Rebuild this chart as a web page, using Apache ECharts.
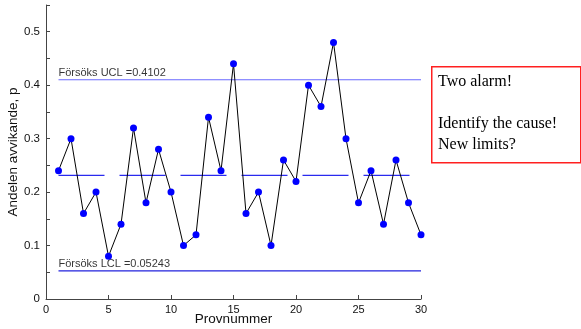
<!DOCTYPE html>
<html><head><meta charset="utf-8">
<script src="https://cdn.jsdelivr.net/npm/echarts@6/dist/echarts.min.js"></script>
<style>html,body{margin:0;padding:0;background:#fff}#c{width:581px;height:329px}</style>
</head><body><div id="c"></div>
<script>
const samples = [1,2,3,4,5,6,7,8,9,10,11,12,13,14,15,16,17,18,19,20,21,22,23,24,25,26,27,28,29,30];
const pValues = [0.24,0.30,0.16,0.20,0.08,0.14,0.32,0.18,0.28,0.20,0.10,0.12,0.34,0.24,0.44,0.16,0.20,0.10,0.26,0.22,0.40,0.36,0.48,0.30,0.18,0.24,0.14,0.26,0.18,0.12];
const UCL = 0.4102;
const LCL = 0.05243;
const CL = 0.2313;
const xTicks = [0,5,10,15,20,25,30];
const yTicks = [0,0.1,0.2,0.3,0.4,0.5];
const ucLabel = 'Försöks UCL =0.4102';
const lcLabel = 'Försöks LCL =0.05243';
const noteLines = ['Two alarm!', '', 'Identify the cause!', 'New limits?'];

const font = 'Liberation Sans, Arial, sans-serif';
const chart = echarts.init(document.getElementById('c'));
const first = samples[0], last = samples[samples.length-1];
function hline(v, color){
  return {
    type:'line', symbol:'none', silent:true, animation:false,
    lineStyle:{color:color, width:1.2},
    data:[[first,v],[last,v]],
    z:1
  };
}
chart.setOption({
  animation:false,
  grid:{left:46, right:160, top:5, bottom:30, outerBoundsMode:'none', containLabel:false},
  xAxis:{type:'value', min:0, max:30, interval:5,
    name:'Provnummer', nameLocation:'middle', nameGap:13, nameMoveOverlap:false,
    nameTextStyle:{fontSize:13.5, fontFamily:font, color:'#111'},
    axisLine:{lineStyle:{color:'#444', width:1}},
    axisTick:{inside:true, length:4, lineStyle:{color:'#444'}},
    axisLabel:{fontSize:11, fontFamily:font, color:'#111', margin:5, formatter:v=>xTicks.includes(v)?String(v):''},
    splitLine:{show:false}},
  yAxis:{type:'value', min:0, max:0.55, interval:0.05,
    name:'Andelen avvikande, p', nameLocation:'middle', nameGap:26, nameRotate:90, nameMoveOverlap:false,
    nameTextStyle:{fontSize:13.5, fontFamily:font, color:'#111'},
    axisLine:{show:true, lineStyle:{color:'#444', width:1}},
    axisTick:{inside:true, length:4, lineStyle:{color:'#444'}},
    axisLabel:{fontSize:11.5, fontFamily:font, color:'#111', margin:6,
      formatter:v=>{const r=Math.round(v*100)/100; return yTicks.some(t=>Math.abs(t-r)<1e-9)? (r===0?'0':String(r)) : '';}},
    splitLine:{show:false}},
  series:[
    hline(UCL,'#6a6aff'),
    hline(LCL,'#2222dd'),
    {type:'line', symbol:'none', silent:true, lineStyle:{color:'#2a2aee', width:1.2, type:[46,15]},
      data:[[first,CL],[last,CL]], z:1},
    {type:'scatter', silent:true, symbolSize:1, itemStyle:{color:'rgba(0,0,0,0)'},
      label:{show:true, position:'top', align:'left', distance:1, color:'#000', fontSize:11, fontFamily:font,
        formatter:p=>p.data.name},
      data:[{name:ucLabel, value:[first,UCL]},{name:lcLabel, value:[first,LCL]}], z:2},
    {type:'line', data:samples.map((s,i)=>[s,pValues[i]]),
      symbol:'circle', symbolSize:7, showAllSymbol:true,
      lineStyle:{color:'#000', width:1}, itemStyle:{color:'#0000ff', borderWidth:0}, z:3}
  ],
  graphic:[
    {type:'rect', left:431, top:66, shape:{width:149, height:96}, style:{fill:'#fff', stroke:'#ff2020', lineWidth:1.5}},
    {type:'text', left:438, top:71, style:{text:noteLines.join('\n'), font:'16px "Liberation Serif", "Times New Roman", serif', lineHeight:21, fill:'#000'}}
  ]
});
</script></body></html>
